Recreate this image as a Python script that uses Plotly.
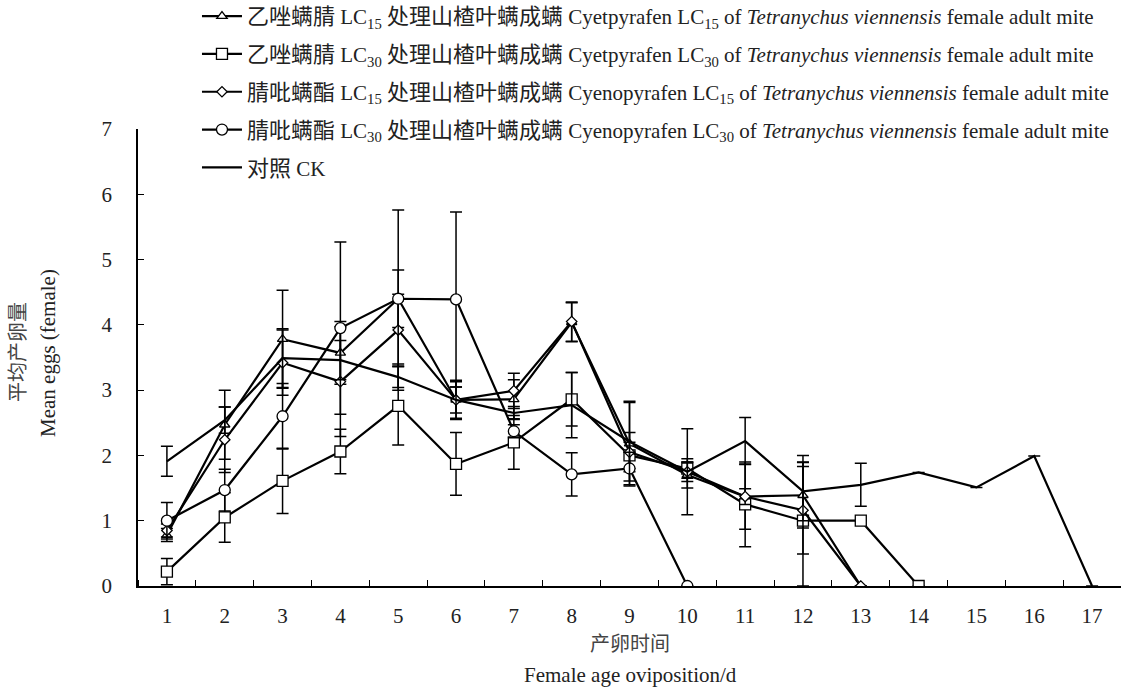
import plotly.graph_objects as go

days = list(range(1, 18))
day_labels = [str(d) for d in days]

# Cyetpyrafen LC15 (triangle)
cyet15 = [0.78, 2.47, 3.78, 3.57, 4.40, 2.85, 2.86, 4.04, 2.18, 1.70, 1.37, 1.39, 0]
cyet15_err = [0.10, 0.53, 0.75, 0.48, 0.44, 0.30, 0.30, 0.30, 0.65, 0.20, 0.50, 0.50, 0]
# Cyetpyrafen LC30 (square)
cyet30 = [0.22, 1.05, 1.61, 2.06, 2.76, 1.87, 2.20, 2.86, 2.00, 1.80, 1.25, 1.00, 1.00, 0]
cyet30_err = [0.20, 0.38, 0.50, 0.34, 0.60, 0.48, 0.41, 0.41, 0.20, 0.15, 0.65, 1.00, 0, 0]
# Cyenopyrafen LC15 (diamond)
cyen15 = [0.85, 2.24, 3.42, 3.13, 3.92, 2.85, 2.99, 4.05, 2.05, 1.75, 1.37, 1.16, 0]
cyen15_err = [0.10, 0.50, 0.50, 0.84, 0.55, 0.28, 0.27, 0.30, 0.30, 0.15, 0.12, 0.67, 0]
# Cyenopyrafen LC30 (circle)
cyen30 = [1.00, 1.47, 2.60, 3.95, 4.40, 4.39, 2.37, 1.71, 1.80, 0]
cyen30_err = [0.28, 0.32, 0.50, 1.32, 1.36, 1.34, 0.10, 0.33, 0.25, 0]
# Control CK
ck = [1.91, 2.54, 3.49, 3.46, 3.20, 2.85, 2.65, 2.77, 2.21, 1.75, 2.22, 1.45, 1.55, 1.74, 1.51, 1.99, 0]
ck_err = [0.23, 0.20, 0.45, 0.30, 0.20, 0.20, 0.10, 0.50, 0.60, 0.66, 0.36, 0.45, 0.33, 0, 0, 0, 0]

def cj(t):
    return f"<span style='font-size:22px'>{t}</span>"

names = [
    cj("乙唑螨腈") + " LC<sub>15</sub> " + cj("处理山楂叶螨成螨") + " Cyetpyrafen LC<sub>15</sub> of <i>Tetranychus viennensis</i> female adult mite",
    cj("乙唑螨腈") + " LC<sub>30</sub> " + cj("处理山楂叶螨成螨") + " Cyetpyrafen LC<sub>30</sub> of <i>Tetranychus viennensis</i> female adult mite",
    cj("腈吡螨酯") + " LC<sub>15</sub> " + cj("处理山楂叶螨成螨") + " Cyenopyrafen LC<sub>15</sub> of <i>Tetranychus viennensis</i> female adult mite",
    cj("腈吡螨酯") + " LC<sub>30</sub> " + cj("处理山楂叶螨成螨") + " Cyenopyrafen LC<sub>30</sub> of <i>Tetranychus viennensis</i> female adult mite",
    cj("对照") + " CK",
]

series = [
    (cyet15, cyet15_err, "triangle-up", 9),
    (cyet30, cyet30_err, "square", 11),
    (cyen15, cyen15_err, "diamond", 8),
    (cyen30, cyen30_err, "circle", 11),
    (ck, ck_err, None, 0),
]

FONT = "Liberation Serif, Times New Roman, Noto Sans CJK SC, serif"
TXT = "#222"

fig = go.Figure()
for i, ((vals, errs, sym, size), name) in enumerate(zip(series, names)):
    n = len(vals)
    mode = "lines+markers" if sym else "lines"
    fig.add_trace(go.Scatter(
        x=days[:n], y=vals, name=name, mode=mode,
        legendgroup=f"g{i}",
        line=dict(color="black", width=2.2),
        marker=dict(symbol=sym if sym else "circle", size=size, color="white",
                    line=dict(color="black", width=1.3)),
        error_y=dict(type="data", array=errs, visible=True, color="black",
                     thickness=1.5, width=6),
    ))

W, H = 1121 - 138, 691 - 129 - 105

def px_ann(text, x, y, angle=0, color=TXT, size=21):
    return dict(text=text, x=(x - 138) / W, y=(586 - y) / H, xref="paper", yref="paper",
                xanchor="center", yanchor="middle", showarrow=False, textangle=angle,
                font=dict(size=size, color=color, family=FONT))

fig.update_layout(
    width=1121, height=691,
    margin=dict(l=138, r=0, t=129, b=105, autoexpand=False),
    paper_bgcolor="white", plot_bgcolor="white",
    font=dict(family=FONT, size=21, color=TXT),
    showlegend=True,
    legend=dict(
        x=0.060, xanchor="left", y=1 + 133 / 457, yanchor="top",
        bgcolor="rgba(0,0,0,0)", font=dict(size=21, family=FONT, color=TXT),
        tracegroupgap=7.5, itemwidth=40,
    ),
    xaxis=dict(
        range=[0.5, 17.5], tickmode="array", tickvals=days, ticktext=day_labels,
        showline=True, linecolor="black", linewidth=1.5, ticks="", showgrid=False,
        zeroline=False, ticklabelstandoff=10, automargin=False,
        minor=dict(ticks="inside", tick0=0.5, dtick=1, ticklen=6, tickcolor="black", tickwidth=1.2, showgrid=False),
        tickfont=dict(size=21, color=TXT),
    ),
    yaxis=dict(
        range=[0, 7], tickmode="linear", tick0=0, dtick=1,
        showline=True, linecolor="black", linewidth=1.5, ticks="inside", ticklen=6,
        tickcolor="black", tickwidth=1.2, showgrid=False, zeroline=False,
        ticklabelstandoff=20, automargin=False, tickfont=dict(size=21, color=TXT),
    ),
    annotations=[
        px_ann("平均产卵量", 18, 352, -90, "#444", 20),
        px_ann("Mean eggs (female)", 48, 353, -90),
        px_ann("产卵时间", 630, 644, 0, "#444", 20),
        px_ann("Female age oviposition/d", 630, 675),
    ],
)

fig.write_html("out.html")
